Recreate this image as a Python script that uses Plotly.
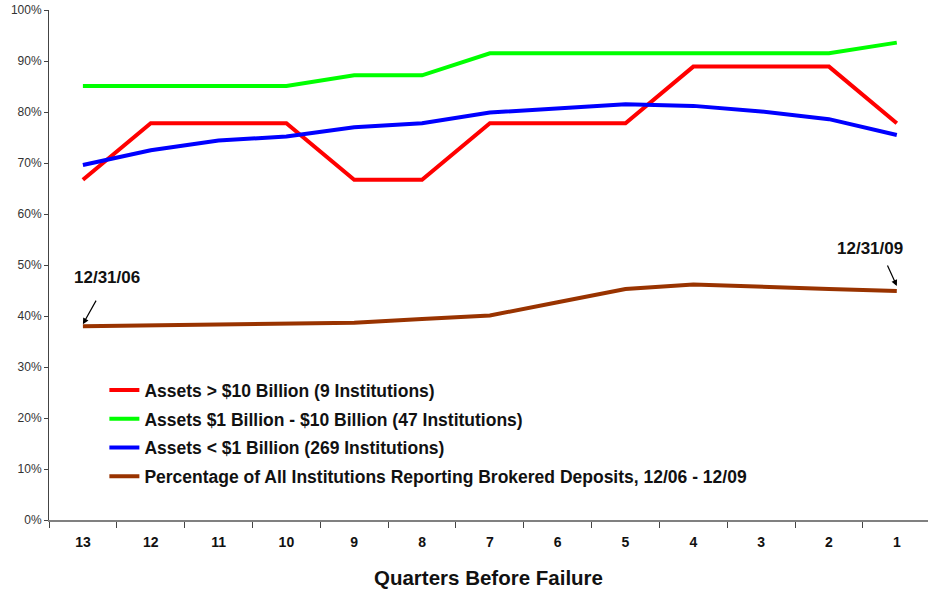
import plotly.graph_objects as go

# quarters before failure, oldest on the left
quarters = ["13", "12", "11", "10", "9", "8", "7", "6", "5", "4", "3", "2", "1"]

large = [66.7, 77.8, 77.8, 77.8, 66.7, 66.7, 77.8, 77.8, 77.8, 88.9, 88.9, 88.9, 77.8]
mid = [85.1, 85.1, 85.1, 85.1, 87.2, 87.2, 91.5, 91.5, 91.5, 91.5, 91.5, 91.5, 93.6]
small = [69.6, 72.5, 74.4, 75.2, 77.0, 77.8, 79.9, 80.7, 81.5, 81.2, 80.1, 78.6, 75.5]
all_inst = [38.0, 38.2, 38.3, 38.5, 38.7, 39.4, 40.1, 42.7, 45.3, 46.2, 45.7, 45.3, 44.9]

names = [
    "Assets > $10 Billion (9 Institutions)",
    "Assets $1 Billion - $10 Billion (47 Institutions)",
    "Assets < $1 Billion (269 Institutions)",
    "Percentage of All Institutions Reporting Brokered Deposits, 12/06 - 12/09",
]
colors = ["#ff0000", "#00ff00", "#0000ff", "#993300"]

FONT = "Arial, Liberation Sans, sans-serif"

fig = go.Figure()
for i, (vals, name, col) in enumerate(zip([large, mid, small, all_inst], names, colors)):
    fig.add_trace(go.Scatter(
        x=quarters, y=[v / 100 for v in vals], name="<b>" + name + "</b>", mode="lines",
        line=dict(color=col, width=4), legendgroup=str(i),
    ))

# date call-outs
fig.add_annotation(x=0.36, y=0.476, text="<b>12/31/06</b>", showarrow=False,
                   font=dict(size=17, color="#111", family=FONT))
fig.add_annotation(x=0, y=0.384, text="", showarrow=True, ax=14, ay=-25,
                   arrowhead=2, arrowsize=1, arrowwidth=1.2, arrowcolor="#000")
fig.add_annotation(x=11.61, y=0.533, text="<b>12/31/09</b>", showarrow=False,
                   font=dict(size=17, color="#111", family=FONT))
fig.add_annotation(x=12, y=0.459, text="", showarrow=True, ax=-10, ay=-22,
                   arrowhead=2, arrowsize=1, arrowwidth=1.2, arrowcolor="#000")

fig.update_layout(
    width=928, height=594,
    margin=dict(l=49, r=0, t=10, b=74),
    plot_bgcolor="white", paper_bgcolor="white",
    font=dict(family=FONT, color="#222"),
    showlegend=True,
    legend=dict(
        x=0.063, y=0.29, xanchor="left", yanchor="top",
        font=dict(size=17.5, color="#111", family=FONT),
        tracegroupgap=3, itemwidth=30, bgcolor="rgba(0,0,0,0)",
    ),
    xaxis=dict(
        type="category", range=[-0.5, 12.46],
        showline=True, linecolor="#808080", linewidth=2,
        ticks="outside", tickson="boundaries", ticklen=6, tickcolor="#444",
        tickfont=dict(size=14, color="#111", family=FONT),
        ticklabelstandoff=8, showgrid=False,
        title=dict(text="<b>Quarters Before Failure</b>",
                   font=dict(size=20.5, color="#111", family=FONT), standoff=22),
    ),
    yaxis=dict(
        range=[0, 1], dtick=0.1, tickformat=".0%",
        showline=True, linecolor="#444", linewidth=1,
        ticks="outside", ticklen=4, tickcolor="#444",
        tickfont=dict(size=12, color="#333", family=FONT),
        ticklabeloverflow="allow",
        showgrid=False, zeroline=False,
    ),
)
fig.update_xaxes(tickprefix="<b>", ticksuffix="</b>")

# drop the default 8px body margin so the figure fills the window exactly
fig.write_html("out.html", config={"displayModeBar": False},
               post_script="document.body.style.margin='0';")
